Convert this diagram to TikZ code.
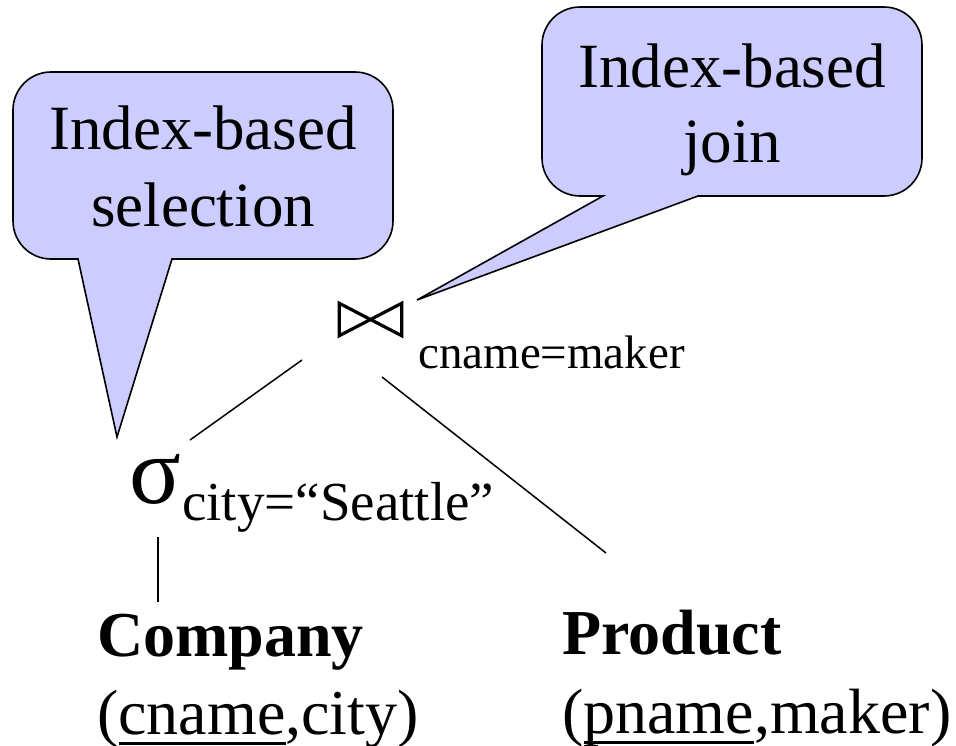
\documentclass[tikz,border=0pt]{standalone}
\usepackage{fontspec}
\setmainfont{Liberation Serif}
\definecolor{calloutfill}{HTML}{CCCCFF}
% key attribute: text with a thick rule at a fixed depth below the baseline
\newcommand\keyattr[1]{\setbox0\hbox{#1}\rlap{\rule[-10.5pt]{\wd0}{3pt}}\box0}

\begin{document}
\begin{tikzpicture}[x=1pt,y=-1pt,
  note/.style={fill=calloutfill, draw=black, line width=1.6pt, line join=miter},
  notetext/.style={anchor=base, inner sep=0pt, font={\fontsize{63}{74}\selectfont}},
  rel/.style={anchor=base west, inner sep=0pt, font={\fontsize{64}{76}\selectfont}},
  edge/.style={draw=black, line width=1.5pt}]

\useasboundingbox (0,0) rectangle (956,746);

% callout for the selection
\path[note] (250,259) [rounded corners=38pt] -- (393,259) -- (393,72) -- (13,72)
  -- (13,259) [sharp corners] -- (78,259) -- (117,437) -- (172,259) -- cycle;
\node[notetext] (selnoteA) at (203,150) {Index-based};
\node[notetext] (selnoteB) at (203,227) {selection};

% callout for the join
\path[note] (800,196) [rounded corners=38pt] -- (922,196) -- (922,7) -- (542,7)
  -- (542,196) [sharp corners] -- (603,196) -- (417,300) -- (698,196) -- cycle;
\node[notetext] (joinnoteA) at (732,88) {Index-based};
\node[notetext] (joinnoteB) at (732,163) {join};

% join operator (bowtie) and its condition
\node[minimum width=62pt, minimum height=32pt, inner sep=0pt] (join) at (370.5,319.5) {};
\draw[line width=3.2pt, line join=miter] (join.north west) -- (join.south east)
  -- (join.north east) -- (join.south west) -- cycle;
\node[anchor=base west, inner sep=0pt, font={\fontsize{47}{56}\selectfont}] (cond) at (418,368) {cname=maker};

% selection operator
\node[anchor=base west, inner sep=0pt, font={\fontsize{96}{100}\selectfont}] (sigma) at (129,503) {σ};
\node[anchor=base west, inner sep=0pt, font={\fontsize{55}{60}\selectfont}] (selcond) at (182,520) {city=“Seattle”};

% relations
\node[rel, font={\fontsize{64}{76}\selectfont\bfseries}] (company) at (97,656) {Company};
\node[rel] (companyattrs) at (97,734) {(\keyattr{cname},city)};
\node[rel, font={\fontsize{64}{76}\selectfont\bfseries}] (product) at (562,654) {Product};
\node[rel] (productattrs) at (562,733) {(\keyattr{pname},maker)};

% tree edges
\coordinate (join-left) at (302,360);
\coordinate (sigma-top) at (190,440);
\coordinate (join-right) at (382,377);
\coordinate (product-top) at (606,553);
\coordinate (sigma-bottom) at (158,537);
\coordinate (company-top) at (158,602);
\draw[edge] (join-left) -- (sigma-top);
\draw[edge] (join-right) -- (product-top);
\draw[edge] (sigma-bottom) -- (company-top);
\end{tikzpicture}
\end{document}
